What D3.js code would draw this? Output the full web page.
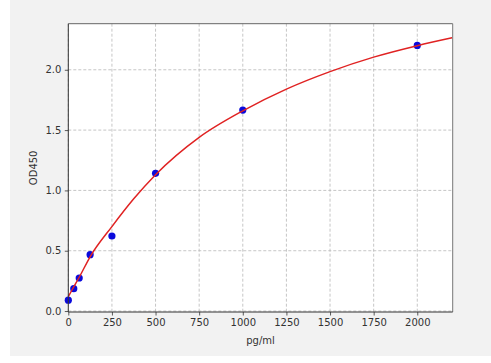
<!DOCTYPE html>
<html>
<head>
<meta charset="utf-8">
<script src="https://cdn.jsdelivr.net/npm/d3@7"></script>
<style>
  html, body { margin: 0; padding: 0; background: #ffffff; }
  svg { display: block; }
</style>
</head>
<body>
<svg id="chart" width="491" height="363"></svg>
<script>
// Standard points (concentration pg/ml, OD450)
const stdConc = [0, 31.25, 62.5, 125, 250, 500, 1000, 2000];
const stdOD = [0.09, 0.185, 0.274, 0.467, 0.622, 1.142, 1.666, 2.202];

// Fitted curve
const curveConc = [0, 31.25, 62.5, 125, 250, 375, 500, 750, 1000, 1250, 1500, 1750, 2000, 2200];
const curveOD = [0.12, 0.2, 0.28, 0.45, 0.70, 0.93, 1.13, 1.44, 1.66, 1.84, 1.985, 2.105, 2.2, 2.265];

const xTicks = [0, 250, 500, 750, 1000, 1250, 1500, 1750, 2000];
const yTicks = [0.0, 0.5, 1.0, 1.5, 2.0];
const xLabel = "pg/ml";
const yLabel = "OD450";

const svg = d3.select("#chart");
const W = 491, H = 363;

// figure background
svg.append("rect").attr("x", 10).attr("y", 0).attr("width", W - 10).attr("height", 356)
  .attr("fill", "#f2f2f2");

const plot = { left: 68.3, top: 23.7, right: 452.7, bottom: 312 };

const x = d3.scaleLinear().domain([0, 2203]).range([plot.left, plot.right]);
const y = d3.scaleLinear().domain([-0.008, 2.382]).range([plot.bottom, plot.top]);

svg.append("rect")
  .attr("x", plot.left).attr("y", plot.top)
  .attr("width", plot.right - plot.left).attr("height", plot.bottom - plot.top)
  .attr("fill", "#ffffff");

// grid
const grid = svg.append("g").attr("stroke", "#b8b8b8").attr("stroke-width", 0.8)
  .attr("stroke-dasharray", "3,2");
grid.selectAll("line.vx").data(xTicks).join("line")
  .attr("x1", d => x(d)).attr("x2", d => x(d))
  .attr("y1", plot.top).attr("y2", plot.bottom);
grid.selectAll("line.hy").data(yTicks).join("line")
  .attr("x1", plot.left).attr("x2", plot.right)
  .attr("y1", d => y(d)).attr("y2", d => y(d));

// axes
const fmtY = d3.format(".1f");
const xAxis = d3.axisBottom(x).tickValues(xTicks).tickFormat(d3.format("d"))
  .tickSizeInner(3.5).tickSizeOuter(0).tickPadding(3.5);
const yAxis = d3.axisLeft(y).tickValues(yTicks).tickFormat(fmtY)
  .tickSizeInner(3.5).tickSizeOuter(0).tickPadding(3.5);

const gx = svg.append("g").attr("transform", `translate(0,${plot.bottom})`).call(xAxis);
const gy = svg.append("g").attr("transform", `translate(${plot.left},0)`).call(yAxis);
[gx, gy].forEach(g => {
  g.select(".domain").remove();
  g.selectAll(".tick line").attr("stroke", "#333").attr("stroke-width", 0.8);
  g.selectAll(".tick text").attr("fill", "#333")
    .style("font-family", "DejaVu Sans, sans-serif").style("font-size", "10px");
});

// data: points then fitted line
svg.append("g").selectAll("circle").data(stdConc.map((c, i) => [c, stdOD[i]])).join("circle")
  .attr("cx", d => x(d[0])).attr("cy", d => y(d[1])).attr("r", 3.6)
  .attr("fill", "#0a0adc");

const line = d3.line().x(d => x(d[0])).y(d => y(d[1])).curve(d3.curveMonotoneX);
svg.append("path").datum(curveConc.map((c, i) => [c, curveOD[i]]))
  .attr("d", line).attr("fill", "none").attr("stroke", "#e02222").attr("stroke-width", 1.5);

// spines
svg.append("line").attr("x1", plot.left).attr("x2", plot.right).attr("y1", plot.top).attr("y2", plot.top)
  .attr("stroke", "#666").attr("stroke-width", 1);
svg.append("line").attr("x1", plot.right).attr("x2", plot.right).attr("y1", plot.top).attr("y2", plot.bottom)
  .attr("stroke", "#777").attr("stroke-width", 1);
svg.append("line").attr("x1", plot.left).attr("x2", plot.right).attr("y1", plot.bottom).attr("y2", plot.bottom)
  .attr("stroke", "#333").attr("stroke-width", 1);
svg.append("line").attr("x1", plot.left).attr("x2", plot.left).attr("y1", plot.top).attr("y2", plot.bottom)
  .attr("stroke", "#333").attr("stroke-width", 1);

// axis labels
svg.append("text").attr("x", (plot.left + plot.right) / 2).attr("y", 344)
  .attr("text-anchor", "middle").attr("fill", "#333")
  .style("font-family", "DejaVu Sans, sans-serif").style("font-size", "10px").text(xLabel);
svg.append("text").attr("transform", `translate(37,${(plot.top + plot.bottom) / 2}) rotate(-90)`)
  .attr("text-anchor", "middle").attr("fill", "#333")
  .style("font-family", "DejaVu Sans, sans-serif").style("font-size", "10px").text(yLabel);
</script>
</body>
</html>
